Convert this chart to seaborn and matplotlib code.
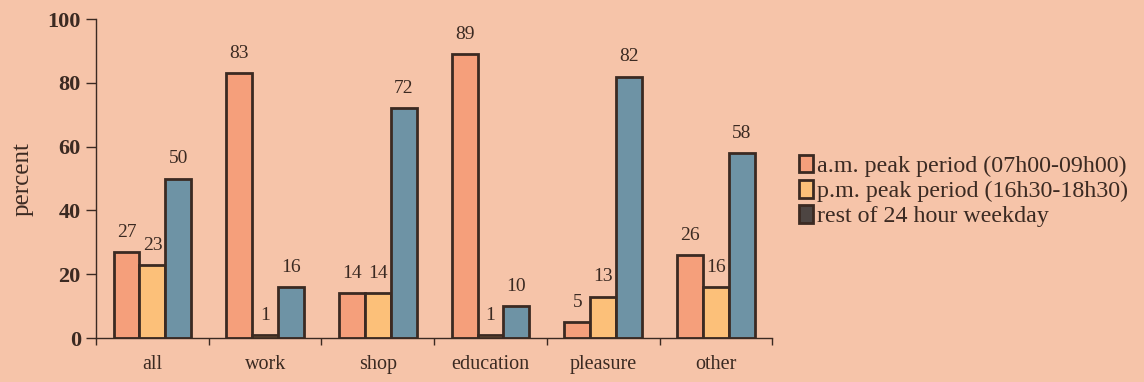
import matplotlib
matplotlib.use("Agg")
import matplotlib.pyplot as plt
from matplotlib.patches import Patch
import seaborn as sns
import pandas as pd

categories = ["all", "work", "shop", "education", "pleasure", "other"]
series_names = [
    "a.m. peak period (07h00-09h00)",
    "p.m. peak period (16h30-18h30)",
    "rest of 24 hour weekday",
]
am_peak = [27, 83, 14, 89, 5, 26]
pm_peak = [23, 1, 14, 1, 13, 16]
rest_of_day = [50, 16, 72, 10, 82, 58]
y_ticks = [0, 20, 40, 60, 80, 100]

bg = "#f6c4a9"
ink = "#3b2a22"
bar_colors = ["#f59f7b", "#fcc079", "#6e93a5"]
legend_colors = ["#f59f7b", "#fcc079", "#4d4542"]

rows = []
for name, vals in zip(series_names, [am_peak, pm_peak, rest_of_day]):
    for cat, v in zip(categories, vals):
        rows.append({"category": cat, "series": name, "value": v})
df = pd.DataFrame(rows)

sns.set_theme(style="white")
plt.rcParams["font.family"] = ["Liberation Serif", "DejaVu Serif"]

fig = plt.figure(figsize=(11.44, 3.82), dpi=100, facecolor=bg)
ax = fig.add_axes([0.084, 0.115, 0.591, 0.835])
ax.set_facecolor(bg)

sns.barplot(
    data=df, x="category", y="value", hue="series",
    order=categories, hue_order=series_names,
    palette=bar_colors, width=0.69, edgecolor=ink, linewidth=2.0,
    saturation=1, ax=ax, legend=False,
)

for container in ax.containers:
    ax.bar_label(container, fmt="%d", padding=8, fontsize=14, color=ink)

ax.set_xlim(-0.5, len(categories) - 0.5)
ax.set_ylim(0, 100)
ax.set_yticks(y_ticks)
ax.set_yticklabels([str(t) for t in y_ticks], fontsize=16, color=ink, fontweight="bold")
ax.set_xticks(range(len(categories)))
ax.set_xticklabels(categories, fontsize=14.5, color=ink)
ax.tick_params(axis="x", length=0, pad=12)
ax.tick_params(axis="y", length=7, width=1, color=ink, direction="out", left=True, pad=4)
ax.set_xticks([i + 0.5 for i in range(-1, len(categories))], minor=True)
ax.tick_params(axis="x", which="minor", length=5, width=1, color=ink, direction="out", bottom=True)
ax.set_xlabel("")
ax.set_ylabel("percent", fontsize=18, color=ink, labelpad=10)

for side in ["top", "right"]:
    ax.spines[side].set_visible(False)
for side in ["left", "bottom"]:
    ax.spines[side].set_color(ink)
    ax.spines[side].set_linewidth(1.0)

handles = [Patch(facecolor=c, edgecolor=ink, linewidth=2.0) for c in legend_colors]
leg = fig.legend(
    handles, series_names, loc="center left", bbox_to_anchor=(0.69, 0.5),
    frameon=False, fontsize=17.3, handlelength=0.6, handleheight=0.75,
    handletextpad=0.15, labelspacing=0.12, borderaxespad=0,
)
for t in leg.get_texts():
    t.set_color(ink)

fig.savefig("out.png", dpi=100, facecolor=bg)
